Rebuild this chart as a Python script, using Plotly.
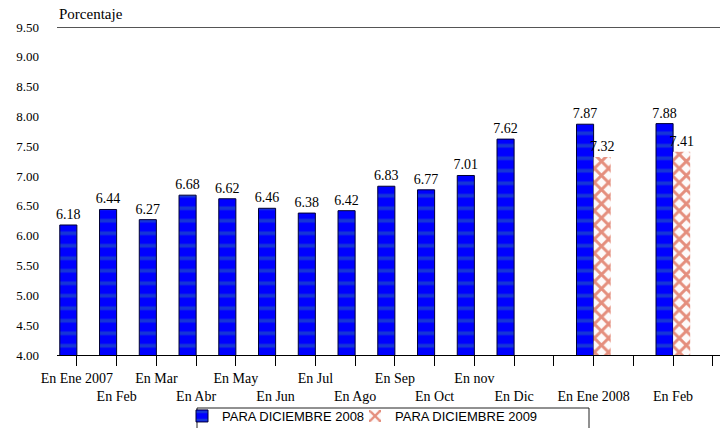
import plotly.graph_objects as go

categories = ["En Ene 2007", "En Feb", "En Mar", "En Abr", "En May", "En Jun", "En Jul",
              "En Ago", "En Sep", "En Oct", "En nov", "En Dic", "", "En Ene 2008", "", "En Feb", ""]
dic2008 = [6.18, 6.44, 6.27, 6.68, 6.62, 6.46, 6.38, 6.42, 6.83, 6.77, 7.01, 7.62,
           None, 7.87, None, 7.88, None]
dic2009 = [None] * 13 + [7.32, None, 7.41, None]
yticks = [4.0 + 0.5 * i for i in range(12)]

x = list(range(len(categories)))
ticktext = [("<br>" + c) if i % 2 == 1 else c for i, c in enumerate(categories)]

serif = "Liberation Serif, Times New Roman, serif"
sans = "Liberation Sans, Arial, sans-serif"

fig = go.Figure()
fig.add_trace(go.Bar(
    x=x, y=dic2008, name="PARA DICIEMBRE 2008", legend="legend",
    marker=dict(color="#0000ff", line=dict(color="#000033", width=1),
                pattern=dict(shape="-", fgcolor="#2a6ab0", bgcolor="#0000ff", size=12.5, solidity=0.3)),
    text=[f"{v:.2f}" if v is not None else "" for v in dic2008],
    textposition="outside", constraintext="none",
    textfont=dict(family=serif, size=14, color="black"),
    cliponaxis=False,
))
fig.add_trace(go.Bar(
    x=x, y=dic2009, name="PARA DICIEMBRE 2009", legend="legend2",
    marker=dict(color="white", line=dict(color="white", width=0),
                pattern=dict(shape="x", fgcolor="#cc2200", bgcolor="#fdfafa", size=10, solidity=0.5)),
    text=[f"{v:.2f}" if v is not None else "" for v in dic2009],
    textposition="outside", constraintext="none",
    textfont=dict(family=serif, size=14, color="black"),
    cliponaxis=False,
))

# legend frame (top, left and right edges visible; bottom cut by the image edge)
px0, px1, py0, py1 = 197, 589, 408, 445
def xp(px):
    return (px - 57) / 663
def yp(py):
    return (355 - py) / 328

leg_common = dict(orientation="h", xref="container", yref="container",
                  xanchor="left", yanchor="top", bgcolor="rgba(0,0,0,0)", borderwidth=0,
                  font=dict(family=sans, size=13, color="black"), itemwidth=30)

fig.update_layout(
    width=720, height=428,
    margin=dict(l=57, r=0, t=27, b=73, autoexpand=False),
    paper_bgcolor="white", plot_bgcolor="white",
    barmode="group", bargap=0.14, bargroupgap=0,
    showlegend=True,
    legend=dict(x=182 / 720, y=1 - 401 / 428, **leg_common),
    legend2=dict(x=355 / 720, y=1 - 401 / 428, **leg_common),
    xaxis=dict(range=[-0.5, 16.18], tickvals=x, ticktext=ticktext,
               ticks="outside", ticklen=10, tickcolor="black",
               showline=True, linecolor="black", linewidth=1, showgrid=False,
               tickfont=dict(family=serif, size=14, color="black"), tickangle=0),
    yaxis=dict(range=[4.0, 9.5], tickvals=yticks, ticktext=[f"{v:.2f}" for v in yticks],
               showgrid=False, zeroline=False, showline=False, ticks="",
               ticklabelstandoff=17,
               tickfont=dict(family=serif, size=13, color="black")),
    shapes=[dict(type="line", xref="paper", yref="y", x0=0, x1=1, y0=9.5, y1=9.5,
                 line=dict(color="#555", width=2)),
            dict(type="rect", xref="paper", yref="paper", x0=xp(px0), x1=xp(px1),
                 y0=yp(py0), y1=yp(py1), line=dict(color="#222", width=1),
                 fillcolor="rgba(0,0,0,0)", layer="above")],
    annotations=[dict(text="Porcentaje", xref="paper", yref="paper", x=0.0, y=1.0,
                      xanchor="left", yanchor="bottom", showarrow=False, yshift=3,
                      font=dict(family=serif, size=15, color="black"))],
)

fig.write_html("out.html")
